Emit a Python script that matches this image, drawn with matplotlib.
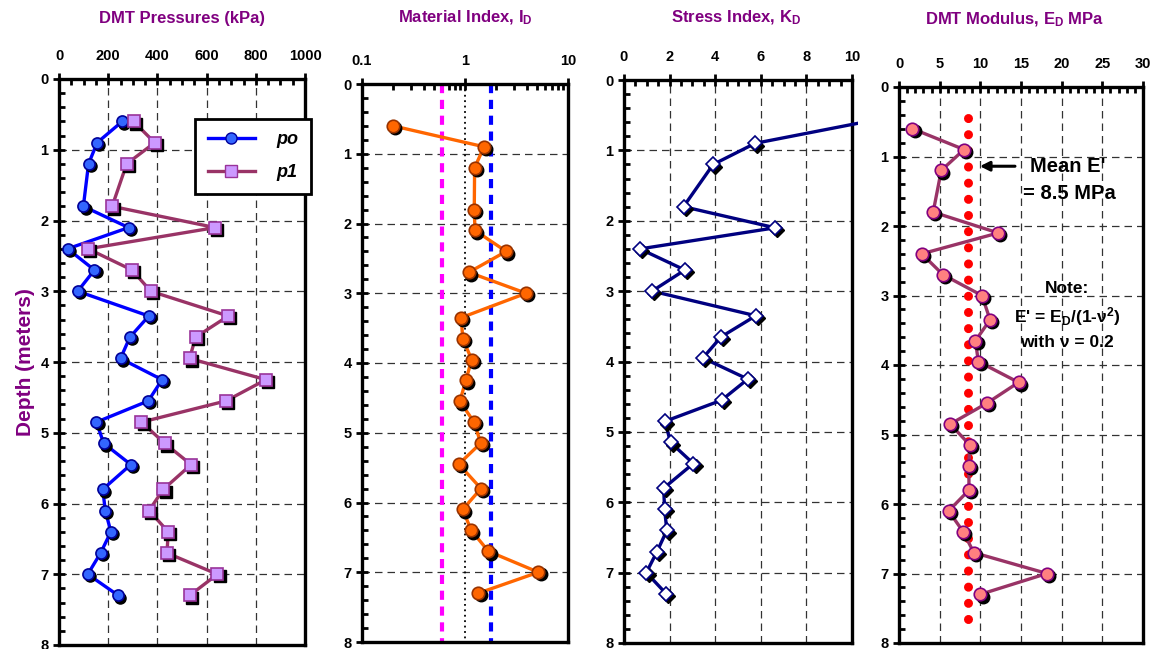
import matplotlib
matplotlib.use('Agg')
import matplotlib.pyplot as plt
import matplotlib.transforms as mtransforms
from matplotlib.lines import Line2D
from matplotlib.patches import Rectangle
from matplotlib.ticker import MultipleLocator, FixedLocator, FixedFormatter, NullFormatter, LogLocator

plt.rcParams['font.family'] = ['Liberation Sans', 'DejaVu Sans']
plt.rcParams['font.weight'] = 'bold'
plt.rcParams['mathtext.fontset'] = 'custom'
plt.rcParams['mathtext.rm'] = 'Liberation Sans:bold'
plt.rcParams['mathtext.it'] = 'Liberation Sans:italic:bold'
plt.rcParams['mathtext.bf'] = 'Liberation Sans:bold'
plt.rcParams['mathtext.default'] = 'rm'

# depths of the test readings (m)
depth = [0.6, 0.9, 1.2, 1.8, 2.1, 2.4, 2.7, 3.0, 3.35, 3.65, 3.95, 4.25,
         4.55, 4.85, 5.15, 5.45, 5.8, 6.1, 6.4, 6.7, 7.0, 7.3]

# DMT pressures (kPa)
po = [257, 155, 120, 99, 283, 35, 144, 76, 365, 288, 250, 419,
      363, 152, 182, 292, 178, 188, 211, 169, 117, 241]
p1 = [303, 389, 275, 216, 635, 118, 297, 373, 688, 555, 531, 841,
      679, 335, 430, 537, 424, 366, 444, 439, 644, 531]

# material index
ID = [0.20, 1.53, 1.24, 1.23, 1.25, 2.51, 1.09, 3.92, 0.92, 0.95, 1.16, 1.02,
      0.89, 1.23, 1.42, 0.87, 1.43, 0.95, 1.15, 1.69, 5.16, 1.35]
ID_limits = [0.6, 1.8]

# stress index (first reading is off the scale)
KD = [10.5, 5.75, 3.91, 2.61, 6.63, 0.70, 2.67, 1.23, 5.78, 4.26, 3.46, 5.43,
      4.28, 1.80, 2.04, 3.04, 1.74, 1.78, 1.88, 1.45, 0.98, 1.85]

# DMT modulus (MPa)
ED = [1.65, 8.0, 5.2, 4.2, 12.2, 2.8, 5.4, 10.2, 11.2, 9.4, 9.75, 14.7,
      10.8, 6.3, 8.7, 8.6, 8.6, 6.1, 7.9, 9.2, 18.2, 10.0]
mean_E = 8.5
mean_depth = [0.45, 7.75]

purple = '#800080'
W, H = 1151, 649
fig = plt.figure(figsize=(W / 100, H / 100), dpi=100)


def make_ax(left, right, top, bottom):
    ax = fig.add_axes([left / W, (H - bottom) / H, (right - left) / W, (bottom - top) / H])
    ax.set_ylim(8, 0)
    ax.xaxis.tick_top()
    ax.yaxis.set_major_locator(MultipleLocator(1))
    ax.yaxis.set_minor_locator(MultipleLocator(0.2))
    for s in ax.spines.values():
        s.set_linewidth(2.4)
    ax.tick_params(which='major', direction='inout', length=9, width=2, labelsize=10.5, pad=3)
    ax.tick_params(axis='x', which='major', pad=7)
    ax.tick_params(which='minor', direction='in', length=4, width=2)
    ax.tick_params(axis='x', which='both', top=True, bottom=False)
    ax.tick_params(axis='y', which='both', left=True, right=False)
    return ax


def grid(ax, vertical=True):
    ax.grid(True, axis='y', which='major', color='#333333', lw=0.9, linestyle=(0, (6, 4)))
    if vertical:
        ax.grid(True, axis='x', which='major', color='#333333', lw=0.9, linestyle=(0, (6, 4)))
    ax.set_axisbelow(True)


def series(ax, x, y, color, marker, face, edge, ms=8, lw=2.4, clip=None, start=0):
    ln, = ax.plot(x, y, color=color, lw=lw, zorder=3)
    if clip is not None:
        ln.set_clip_path(clip)
    shadow = mtransforms.offset_copy(ax.transData, fig=fig, x=2.2, y=-2.2, units='dots')
    ax.plot(x[start:], y[start:], linestyle='none', marker=marker, ms=ms, color='black',
            transform=shadow, zorder=4)
    ax.plot(x[start:], y[start:], linestyle='none', marker=marker, ms=ms, mfc=face, mec=edge,
            mew=1.2, zorder=5)


def fix_labels(ax):
    for lab in ax.get_xticklabels() + ax.get_yticklabels():
        lab.set_fontweight('bold')


# ---- panel 1: pressures
ax1 = make_ax(59, 305, 79, 645)
ax1.set_xlim(0, 1000)
ax1.xaxis.set_major_locator(MultipleLocator(200))
ax1.xaxis.set_minor_locator(MultipleLocator(50))
grid(ax1)
series(ax1, po, depth, '#0000FF', 'o', '#3366FF', '#000099')
series(ax1, p1, depth, '#993366', 's', '#CC99FF', '#993399')
h1 = Line2D([], [], color='#0000FF', lw=2.4, marker='o', ms=8, mfc='#3366FF', mec='#000099')
h2 = Line2D([], [], color='#993366', lw=2.4, marker='s', ms=8, mfc='#CC99FF', mec='#993399')
leg = ax1.legend([h1, h2], ['po', 'p1'], loc='upper left', bbox_to_anchor=(0.517, 0.946),
                 prop={'style': 'italic', 'weight': 'bold', 'size': 13}, fancybox=False,
                 edgecolor='black', framealpha=1, handlelength=2.6, labelspacing=0.9,
                 borderpad=0.7, handletextpad=1.2)
leg.get_frame().set_linewidth(2)
ax1.set_ylabel('Depth (meters)', color=purple, fontsize=15, fontweight='bold', labelpad=4)
fix_labels(ax1)

# ---- panel 2: material index
ax2 = make_ax(362, 568, 84, 642)
ax2.set_xscale('log')
ax2.set_xlim(0.1, 10)
ax2.xaxis.set_major_locator(FixedLocator([0.1, 1, 10]))
ax2.xaxis.set_major_formatter(FixedFormatter(['0.1', '1', '10']))
ax2.xaxis.set_minor_locator(LogLocator(base=10, subs=range(2, 10)))
ax2.xaxis.set_minor_formatter(NullFormatter())
grid(ax2, vertical=False)
ax2.plot([ID_limits[0]] * 2, [0, 8], color='#FF00FF', lw=3, linestyle=(0, (2.2, 1.6)), zorder=2)
ax2.plot([ID_limits[1]] * 2, [0, 8], color='#0000FF', lw=3, linestyle=(0, (2.2, 1.6)), zorder=2)
ax2.plot([1, 1], [0, 8], color='black', lw=1.3, linestyle=(0, (1, 2)), zorder=2)
series(ax2, ID, depth, '#FF6600', 'o', '#FF6600', '#993300', ms=9)
fix_labels(ax2)

# ---- panel 3: stress index
ax3 = make_ax(624, 852, 80, 643)
ax3.set_xlim(0, 10)
ax3.xaxis.set_major_locator(MultipleLocator(2))
ax3.xaxis.set_minor_locator(MultipleLocator(0.5))
grid(ax3)
clip = Rectangle((0, 0), 1.028, 1, transform=ax3.transAxes, facecolor='none', edgecolor='none')
ax3.add_patch(clip)
series(ax3, KD, depth, '#000080', 'D', 'white', '#000080', ms=7.5, clip=clip, start=1)
fix_labels(ax3)

# ---- panel 4: modulus
ax4 = make_ax(899, 1143, 87, 643)
ax4.set_xlim(0, 30)
ax4.xaxis.set_major_locator(MultipleLocator(5))
ax4.xaxis.set_minor_locator(MultipleLocator(1))
grid(ax4)
ax4.plot([mean_E, mean_E], mean_depth, color='#FF0000', lw=6.5,
         linestyle=(0, (0.01, 1.78)), dash_capstyle='round', zorder=2)
series(ax4, ED, depth, '#993366', 'o', '#FF8080', '#800080', ms=9)
ax4.annotate('', xy=(9.6, 1.14), xytext=(14.6, 1.14),
             arrowprops=dict(arrowstyle='-|>', color='black', lw=2.2, mutation_scale=14))
ax4.text(20.8, 1.14, "Mean E'", ha='center', va='center', fontsize=14.5, fontweight='bold')
ax4.text(21.0, 1.53, '= 8.5 MPa', ha='center', va='center', fontsize=14.5, fontweight='bold')
ax4.text(20.7, 2.9, 'Note:', ha='center', va='center', fontsize=12.5, fontweight='bold')
ax4.text(20.7, 3.31, "E' = E$_{D}$/(1-ν$^{2}$)", ha='center', va='center', fontsize=12.5,
         fontweight='bold')
ax4.text(20.7, 3.68, 'with ν = 0.2', ha='center', va='center', fontsize=12.5, fontweight='bold')
fix_labels(ax4)

# titles
fig.text(182 / W, 1 - 18 / H, 'DMT Pressures (kPa)', ha='center', va='center',
         color=purple, fontsize=12, fontweight='bold')
fig.text(465 / W, 1 - 18 / H, 'Material Index, I$_{D}$', ha='center', va='center',
         color=purple, fontsize=12, fontweight='bold')
fig.text(736 / W, 1 - 18 / H, 'Stress Index, K$_{D}$', ha='center', va='center',
         color=purple, fontsize=12, fontweight='bold')
fig.text(1015 / W, 1 - 20 / H, 'DMT Modulus, E$_{D}$ MPa', ha='center', va='center',
         color=purple, fontsize=12, fontweight='bold')

fig.savefig('out.png', dpi=100)
